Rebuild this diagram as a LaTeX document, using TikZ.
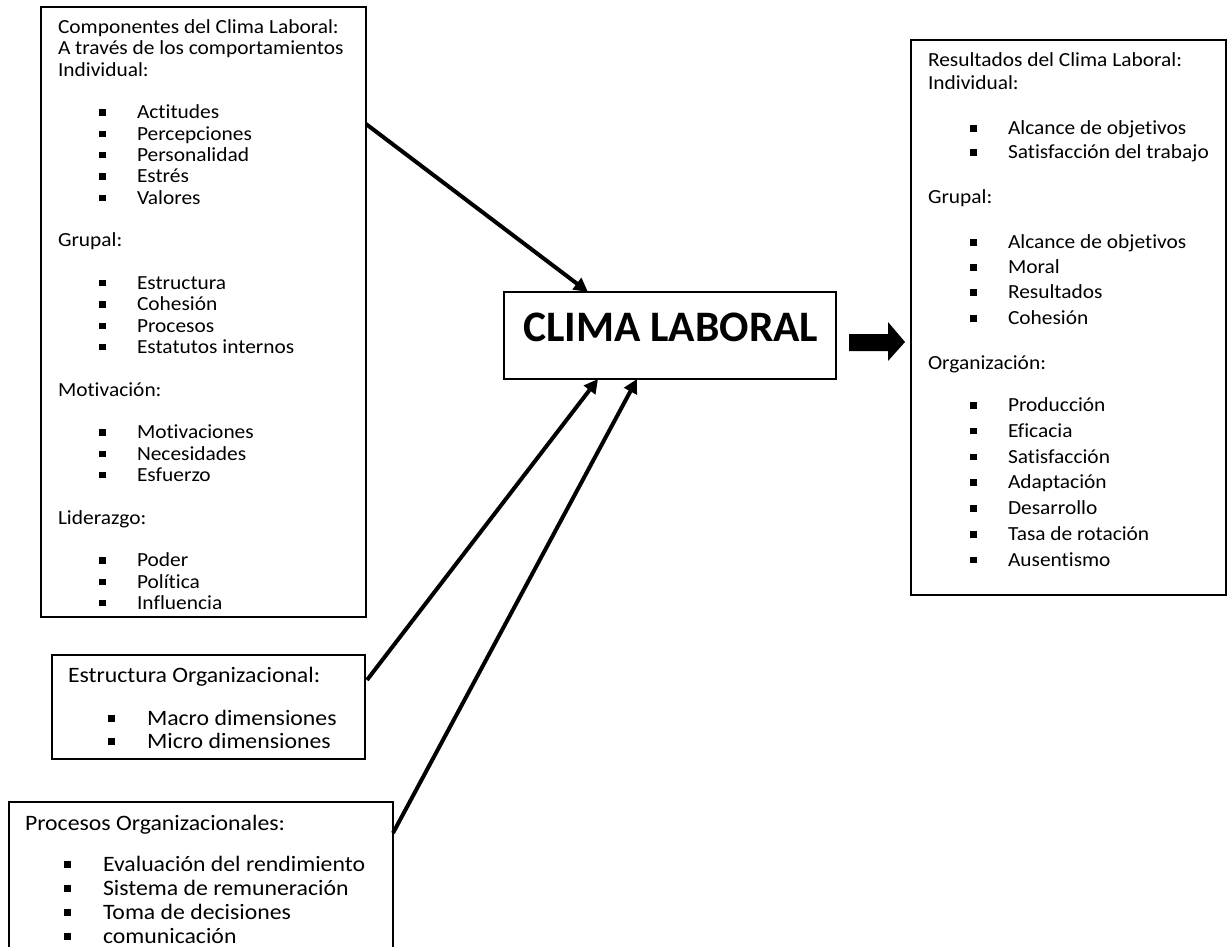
\documentclass[tikz,border=0pt]{standalone}
\usepackage{fontspec}
\defaultfontfeatures{Ligatures={NoCommon,NoContextual,NoRequired}}
\setmainfont{Carlito}
\newfontfamily\bxf[FakeStretch=1.07]{Carlito}
\newfontfamily\bxg[FakeStretch=1.08]{Carlito}
\usetikzlibrary{arrows.meta,calc}
\newcommand\bul[1]{\makebox[38pt][l]{\rule[3pt]{6.5pt}{6.5pt}}#1}
\newcommand\bulb[1]{\makebox[39pt][l]{\rule[3pt]{7pt}{7pt}}#1}
\tikzset{
  box/.style={draw, line width=1.2pt, inner sep=0pt, outer sep=0pt, anchor=north west},
  hd/.style={anchor=base west, inner sep=0pt, outer sep=0pt, font=\bxf\fontsize{20}{24}\selectfont},
  hdb/.style={anchor=base west, inner sep=0pt, outer sep=0pt, font=\bxg\fontsize{22}{26}\selectfont},
  arr/.style={line width=4pt, -{Triangle[length=14pt,width=14pt]}},
}
\begin{document}
\begin{tikzpicture}[x=1pt,y=-1pt]
\path[use as bounding box, fill=white] (0,0) rectangle (1232,946);
\clip (0,0) rectangle (1232,946);

% boxes
\node[box, minimum width=325pt, minimum height=610pt] (b1) at (41,7) {};
\node[box, minimum width=313pt, minimum height=104pt] (b2) at (52,655) {};
\node[box, minimum width=384pt, minimum height=170pt] (b3) at (9,802) {};
\node[box, minimum width=332pt, minimum height=87pt] (cl) at (504,292) {};
\node[box, minimum width=315pt, minimum height=555pt] (rb) at (911,40) {};

% box 1 text
\node[hd] (h1a) at (58,33.5) {Componentes del Clima Laboral:};
\node[hd] (h1b) at (58,54.8) {A través de los comportamientos};
\node[hd] (h1c) at (58,76.2) {Individual:};
\foreach \t [count=\i] in {Actitudes,Percepciones,Personalidad,Estrés,Valores}
  \node[hd] (ia\i) at (99,{33.5+(\i+3)*21.33}) {\bul{\t}};
\node[hd] (h1d) at (58,246.8) {Grupal:};
\foreach \t [count=\i] in {Estructura,Cohesión,Procesos,Estatutos internos}
  \node[hd] (ib\i) at (99,{33.5+(\i+11)*21.33}) {\bul{\t}};
\node[hd] (h1e) at (58,396.1) {Motivación:};
\foreach \t [count=\i] in {Motivaciones,Necesidades,Esfuerzo}
  \node[hd] (ic\i) at (99,{33.5+(\i+18)*21.33}) {\bul{\t}};
\node[hd] (h1f) at (58,524.1) {Liderazgo:};
\foreach \t [count=\i] in {Poder,Política,Influencia}
  \node[hd] (id\i) at (99,{33.5+(\i+24)*21.33}) {\bul{\t}};

% box 2 text
\node[hdb] (h2) at (68,682) {Estructura Organizacional:};
\node[hdb] (j1) at (108,725) {\bulb{Macro dimensiones}};
\node[hdb] (j2) at (108,748) {\bulb{Micro dimensiones}};

% box 3 text
\node[hdb] (h3) at (25,830) {Procesos Organizacionales:};
\foreach \t [count=\i] in {Evaluación del rendimiento,Sistema de remuneración,Toma de decisiones,comunicación}
  \node[hdb] (k\i) at (64,{871+(\i-1)*24}) {\bulb{\t}};

% clima text
\node[anchor=base west, inner sep=0pt, font=\fontsize{43.5}{50}\selectfont\bfseries] (clt) at (523,341.5) {CLIMA LABORAL};

% right box text
\node[hd] (r1) at (928,66.5) {Resultados del Clima Laboral:};
\node[hd] (r2) at (928,89.5) {Individual:};
\node[hd] (ra1) at (970,134.5) {\bul{Alcance de objetivos}};
\node[hd] (ra2) at (970,158.5) {\bul{Satisfacción del trabajo}};
\node[hd] (r3) at (928,203.5) {Grupal:};
\foreach \t/\y [count=\i] in {Alcance de objetivos/248.5,Moral/273.5,Resultados/298.5,Cohesión/324.5}
  \node[hd] (rb\i) at (970,\y) {\bul{\t}};
\node[hd] (r4) at (928,369.5) {Organización:};
\foreach \t [count=\i] in {Producción,Eficacia,Satisfacción,Adaptación,Desarrollo,Tasa de rotación,Ausentismo}
  \node[hd] (rc\i) at (970,{411.5+(\i-1)*25.8}) {\bul{\t}};

% connectors
\draw[arr] ($(b1.north east)+(0,117)$) -- ($(cl.north west)+(84,0)$);
\draw[arr] ($(b2.north east)+(2,25)$) -- ($(cl.south west)+(94,0)$);
\draw[arr] ($(b3.north east)+(0,31)$) -- ($(cl.south west)+(133,0)$);

% block arrow
\fill (849,334) -- (888,334) -- (888,322) -- (905,342) -- (888,361) -- (888,351) -- (849,351) -- cycle;
\end{tikzpicture}
\end{document}
